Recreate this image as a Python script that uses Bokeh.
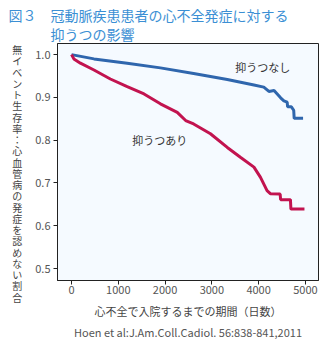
from bokeh.plotting import figure
from bokeh.models import Label, FixedTicker, NumeralTickFormatter, Range1d, Title
from bokeh.embed import file_html
from bokeh.resources import INLINE

# Data
no_dep_days = [0, 480, 1190, 1900, 2610, 3330, 3900, 4110, 4220, 4330, 4470, 4540, 4610, 4620, 4700, 4750, 4760, 4950]
no_dep_surv = [1.0, 0.990, 0.980, 0.969, 0.956, 0.942, 0.929, 0.924, 0.914, 0.916, 0.899, 0.892, 0.889, 0.878, 0.878, 0.870, 0.851, 0.851]
dep_days = [0, 50, 190, 480, 830, 1190, 1550, 1900, 2260, 2440, 2610, 2970, 3330, 3610, 3900, 4040, 4180, 4250, 4460, 4470, 4680, 4690, 4980]
dep_surv = [1.0, 0.990, 0.980, 0.964, 0.943, 0.925, 0.908, 0.885, 0.865, 0.846, 0.838, 0.815, 0.783, 0.760, 0.737, 0.713, 0.682, 0.675, 0.674, 0.661, 0.661, 0.639, 0.639]
x_ticks = [0, 1000, 2000, 3000, 4000, 5000]
y_ticks = [0.5, 0.6, 0.7, 0.8, 0.9, 1.0]

title1 = "図３　冠動脈疾患患者の心不全発症に対する"
title2 = "抑うつの影響"
y_label = "無イベント生存率：心血管病の発症を認めない割合"
x_label = "心不全で入院するまでの期間（日数）"
citation = "Hoen et al:J.Am.Coll.Cadiol. 56:838-841,2011"
label_no = "抑うつなし"
label_dep = "抑うつあり"

FONT = "Noto Sans CJK JP"
TITLE_COLOR = "#3b8fd4"

p = figure(width=336, height=341, output_backend="svg", toolbar_location=None,
           x_range=Range1d(-300, 5280), y_range=Range1d(0.472, 1.026),
           min_border_left=57, min_border_right=18, min_border_top=43, min_border_bottom=61)
p.background_fill_color = "#f5faff"
p.border_fill_color = "white"
p.outline_line_color = "#222222"
p.outline_line_width = 1
p.grid.visible = False

# Two-line title; the second line is indented under the first line's text
p.title.text = title1 + "\n\u3000\u3000\u3000" + title2
p.title.text_font = FONT
p.title.text_font_size = "14px"
p.title.text_font_style = "normal"
p.title.text_color = TITLE_COLOR
p.title.align = "left"
p.title.offset = -49
p.title.standoff = 0
p.title.text_line_height = 0.95

p.line(no_dep_days, no_dep_surv, line_color="#2f66ad", line_width=3)
p.line(dep_days, dep_surv, line_color="#c2134f", line_width=3)

for ax in (p.xaxis[0], p.yaxis[0]):
    ax.axis_line_color = "#222222"
    ax.major_tick_line_color = "#222222"
    ax.major_tick_out = 4
    ax.major_tick_in = 0
    ax.minor_tick_line_color = None
    ax.major_label_text_font = FONT
    ax.major_label_text_font_size = "11px"
    ax.major_label_text_color = "#555555"
    ax.major_label_standoff = 1
    ax.axis_label_text_font = FONT
    ax.axis_label_text_font_style = "normal"
    ax.axis_label_text_color = "#444444"

p.yaxis.major_label_standoff = 3
p.xaxis.ticker = FixedTicker(ticks=x_ticks)
p.yaxis.ticker = FixedTicker(ticks=y_ticks)
p.yaxis.formatter = NumeralTickFormatter(format="0.0")

p.xaxis.axis_label = x_label
p.xaxis.axis_label_text_font_size = "11px"
p.xaxis.axis_label_standoff = 6

p.yaxis.axis_label = "\n\n" + "\n".join(y_label)
p.yaxis.axis_label_orientation = "horizontal"
p.yaxis.axis_label_text_font_size = "10px"
p.yaxis.axis_label_text_line_height = 0.75
p.yaxis.axis_label_standoff = 10

p.add_layout(Title(text=citation, text_font=FONT, text_font_size="11px", text_font_style="normal",
                   text_color="#555555", align="center", standoff=0, text_line_height=0.8), "below")

p.add_layout(Label(x=3500, y=0.972, text=label_no, text_font=FONT, text_font_size="11px",
                   text_color="#333333", text_baseline="middle"))
p.add_layout(Label(x=1300, y=0.80, text=label_dep, text_font=FONT, text_font_size="11px",
                   text_color="#333333", text_baseline="middle"))

open("out.html", "w").write(file_html(p, INLINE))
